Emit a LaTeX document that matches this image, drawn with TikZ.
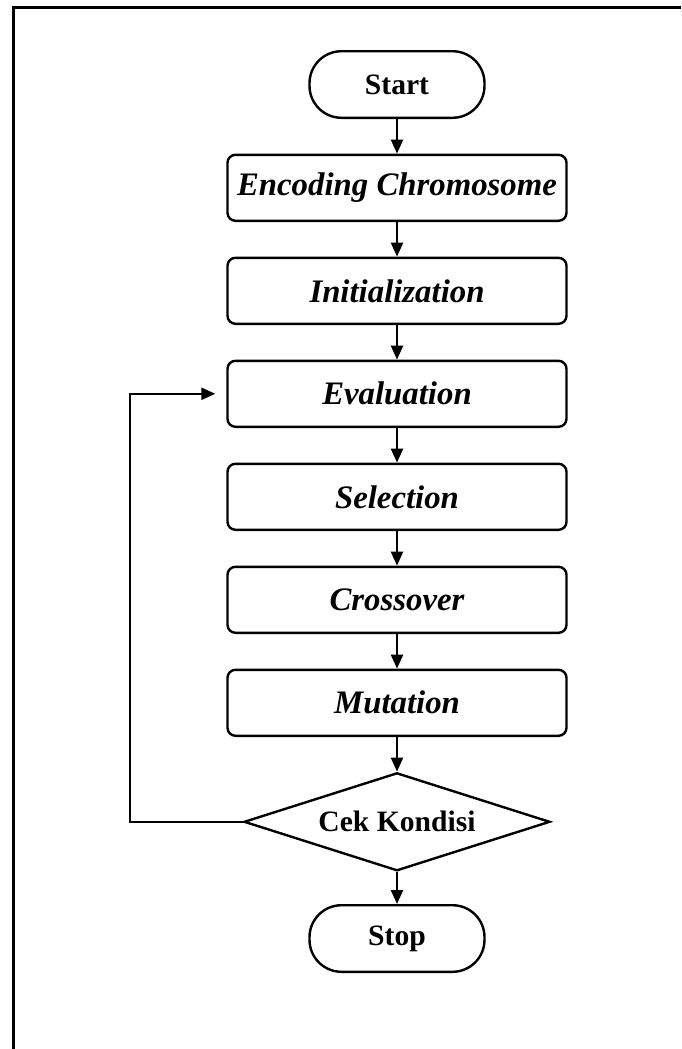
\documentclass[tikz,border=0pt]{standalone}
\usepackage{fontspec}
\setmainfont{Liberation Serif}
\usetikzlibrary{positioning,arrows.meta,shapes.geometric}
\tikzset{
  flow-box/.style={draw,line width=1.2pt,rounded corners=4pt,
    minimum width=169.5pt,minimum height=33pt,inner sep=0pt,align=center,
    font=\fontsize{16.4}{19}\selectfont\bfseries\itshape},
  flow-term/.style={draw,line width=1.2pt,rounded corners=16pt,
    minimum width=87.5pt,minimum height=33.3pt,inner sep=0pt,
    font=\fontsize{14.8}{17}\selectfont\bfseries},
  flow-cek/.style={draw,diamond,line width=1.2pt,aspect=3,inner sep=0pt,
    minimum width=153pt,minimum height=49pt,
    font=\fontsize{14.8}{17}\selectfont\bfseries},
  arrow/.style={-{Triangle[length=7pt,width=6pt]},line width=1.2pt},
  frame-line/.style={line width=1.5pt},
}
\begin{document}
\begin{tikzpicture}[x=0.5pt,y=-0.5pt,node distance=17.3pt]
  \useasboundingbox (0,0) rectangle (681,1049);
  \draw[frame-line] (13,1049) -- (13,7) -- (681,7);
  \node[flow-term] (start) at (397,84.5) {Start};
  \node[flow-box,below=of start] (enc)  {Encoding Chromosome};
  \node[flow-box,below=of enc]   (init) {Initialization};
  \node[flow-box,below=of init]  (eval) {Evaluation};
  \node[flow-box,below=of eval]  (sel)  {Selection};
  \node[flow-box,below=of sel]   (cross) {Crossover};
  \node[flow-box,below=of cross] (mut)  {Mutation};
  \node[flow-cek,below=of mut]   (cek)  {Cek Kondisi};
  \node[flow-term,below=16pt of cek] (stop) {Stop};
  \foreach \a/\b in {start/enc,enc/init,init/eval,eval/sel,sel/cross,cross/mut,mut/cek,cek/stop}
    \draw[arrow] (\a) -- (\b);
  % kembali ke evaluasi
  \draw[arrow,shorten >=5.5pt] (cek.west) -- ++(-113,0) |- (eval.west);
\end{tikzpicture}
\end{document}
